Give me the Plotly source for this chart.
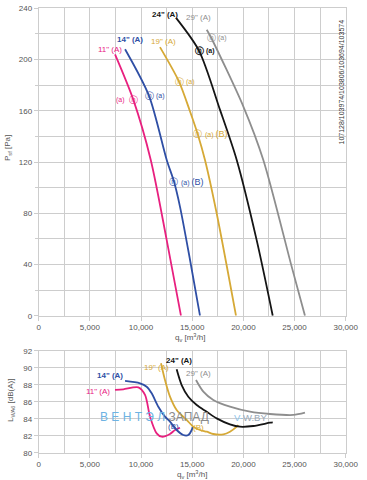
import plotly.graph_objects as go

# ---------------- data: static pressure (top) ----------------
q11_p = [7460, 9250, 10950, 12510, 13900]
p11 = [204, 168.5, 121.6, 59, 0]
q14_p = [8440, 10780, 12510, 13220, 13810, 14790, 15760]
p14 = [208, 171.6, 121.6, 104.7, 85, 43.5, 0]
q19_p = [11850, 13710, 14790, 15540, 16250, 17390, 19280]
p19 = [209.7, 182.8, 159.4, 141.7, 121.6, 80, 0]
q24_p = [13440, 15670, 17720, 19350, 21300, 22870]
p24 = [232.3, 206.8, 160.7, 121.6, 59, 0]
q29_p = [16420, 16840, 20000, 21950, 24720, 26020]
p29 = [223.2, 217.2, 163.3, 121.6, 38.3, 0]

# ---------------- data: sound power (bottom) ----------------
q11_l = [7460, 8270, 9740, 10390, 10880, 11530, 12020, 12830, 13320, 13810]
l11 = [87.38, 87.46, 87.69, 86.8, 84.24, 82.28, 81.88, 82.2, 82.67, 82.94]
q14_l = [8440, 9900, 10550, 11040, 11690, 12340, 12830, 13480, 14130, 14620, 14950, 15050]
l14 = [88.44, 88.16, 87.76, 86.99, 85.41, 84.24, 83.65, 82.67, 82.08, 82.08, 82.67, 83.06]
q19_l = [11950, 12340, 12830, 13480, 14460, 15110, 15760, 16420, 17060, 18040, 18690, 19350, 19500]
l19 = [90.52, 88.55, 86.59, 85.02, 83.85, 83.06, 82.67, 82.47, 82.2, 82.16, 82.47, 83.06, 83.26]
q24_l = [13480, 13970, 14620, 15440, 16420, 17390, 18690, 19670, 20970, 22600, 22870]
l24 = [89.81, 87.96, 86.59, 85.61, 84.82, 84.04, 83.34, 83.06, 83.14, 83.53, 83.57]
q29_l = [15370, 16090, 17060, 18690, 20650, 22600, 24880, 26020]
l29 = [88.55, 87.18, 86.2, 85.41, 84.82, 84.55, 84.44, 84.71]

x_ticks = [0, 5000, 10000, 15000, 20000, 25000, 30000]
x_tick_text = ["0", "5,000", "10,000", "15,000", "20,000", "25,000", "30,000"]

PINK = "#e8207f"
BLUE = "#2f4fa5"
GOLD = "#d6a936"
BLACK = "#151515"
GRAY = "#8e8e8e"
GRID = "#cdcdcd"
TXT = "#555555"
FONT = "Liberation Sans, Arial, sans-serif"

W, H = 367, 480
fig = go.Figure()

series_top = [(q11_p, p11, PINK), (q14_p, p14, BLUE), (q19_p, p19, GOLD),
              (q24_p, p24, BLACK), (q29_p, p29, GRAY)]
series_bot = [(q11_l, l11, PINK), (q14_l, l14, BLUE), (q19_l, l19, GOLD),
              (q24_l, l24, BLACK), (q29_l, l29, GRAY)]
for q, v, c in series_top:
    fig.add_trace(go.Scatter(x=q, y=v, mode="lines", xaxis="x", yaxis="y",
                             line=dict(color=c, width=1.8, shape="spline", smoothing=0.8),
                             showlegend=False, hoverinfo="skip"))
for q, v, c in series_bot:
    fig.add_trace(go.Scatter(x=q, y=v, mode="lines", xaxis="x2", yaxis="y2",
                             line=dict(color=c, width=1.8, shape="spline", smoothing=0.8),
                             showlegend=False, hoverinfo="skip"))

xd = [38.7 / W, 345.7 / W]
common_x = dict(range=[0, 30000], tickvals=x_ticks, ticktext=x_tick_text,
                showgrid=True, gridcolor=GRID, gridwidth=1,
                minor=dict(dtick=2500, showgrid=True, gridcolor=GRID, gridwidth=1),
                showline=True, linecolor=GRID, linewidth=1, mirror=True,
                ticks="outside", ticklen=4, tickcolor=GRID, automargin=False,
                tickfont=dict(size=8, color=TXT, family=FONT), zeroline=False,
                domain=xd, fixedrange=True)
fig.update_layout(
    width=W, height=H, autosize=False,
    margin=dict(l=0, r=0, t=0, b=0, pad=0, autoexpand=False),
    paper_bgcolor="white", plot_bgcolor="white", showlegend=False,
    xaxis=dict(common_x, anchor="y"),
    xaxis2=dict(common_x, anchor="y2"),
    yaxis=dict(range=[0, 240], tickvals=[0, 40, 80, 120, 160, 200, 240],
               showgrid=True, gridcolor=GRID, automargin=False, fixedrange=True,
               minor=dict(dtick=20, showgrid=True, gridcolor=GRID, ticks="outside", ticklen=3, tickcolor=GRID),
               showline=True, linecolor=GRID, mirror=True, ticks="outside", ticklen=4,
               tickcolor=GRID, tickfont=dict(size=8, color=TXT, family=FONT), zeroline=False,
               domain=[1 - 315.7 / H, 1 - 8.3 / H], anchor="x"),
    yaxis2=dict(range=[80, 92], tickvals=[80, 82, 84, 86, 88, 90, 92],
                showgrid=True, gridcolor=GRID, automargin=False, fixedrange=True,
                showline=True, linecolor=GRID, mirror=True, ticks="outside", ticklen=4,
                tickcolor=GRID, tickfont=dict(size=8, color=TXT, family=FONT), zeroline=False,
                domain=[1 - 452.7 / H, 1 - 350.7 / H], anchor="x2"),
)

ann = []


def label(x, y, text, color, xr="x", yr="y", size=8, bold=False, **kw):
    t = "<b>%s</b>" % text if bold else text
    ann.append(dict(x=x, y=y, xref=xr, yref=yr, text=t, showarrow=False,
                    font=dict(size=size, color=color, family=FONT), **kw))


# curve labels top
label(12340, 235, '24" (A)', BLACK, bold=True)
label(15570, 232.6, '29" (A)', GRAY)
label(8920, 216, '14" (A)', BLUE, bold=True)
label(6970, 208, '11" (A)', PINK)
label(12180, 214, '19" (A)', GOLD)


# operating point markers (circled n) on the top curves
def marker(x, y, color, right=None, left=None, xr="x", yr="y", bold=False):
    label(x, y, "ⓝ", color, xr, yr, size=9, bold=bold)
    if right:
        label(x, y, right, color, xr, yr, size=7, bold=bold, xanchor="left", xshift=5)
    if left:
        label(x, y, left, color, xr, yr, size=7, bold=bold, xanchor="right", xshift=-6)


marker(9245, 168.5, PINK, left="(a)")
marker(10780, 171.6, BLUE, right="(a)")
marker(13220, 104.7, BLUE, right="(a) <span style='font-size:9px'>(B)</span>")
marker(13710, 182.8, GOLD, right="(a)")
marker(15540, 141.7, GOLD, right="(a) <span style='font-size:9px'>(B)</span>")
marker(15670, 206.8, BLACK, right="(a)", bold=True)
marker(16840, 217.2, GRAY, right="(a)")

# curve labels bottom
label(6970, 89.06, '14" (A)', BLUE, "x2", "y2", bold=True)
label(5830, 87.18, '11" (A)', PINK, "x2", "y2")
label(11530, 90.0, '19" (A)', GOLD, "x2", "y2")
label(13740, 90.9, '24" (A)', BLACK, "x2", "y2", bold=True)
label(15600, 89.26, '29" (A)', GRAY, "x2", "y2")
label(13150, 83.06, "(B)", BLUE, "x2", "y2")
label(15600, 82.94, "(B)", GOLD, "x2", "y2")


# axis titles and side text
def paper_text(px, py, text, size=8, color=TXT, angle=0, xanchor="center"):
    ann.append(dict(x=px / W, y=1 - py / H, xref="paper", yref="paper", text=text,
                    showarrow=False, textangle=angle, xanchor=xanchor, yanchor="middle",
                    font=dict(size=size, color=color, family=FONT)))


paper_text(8, 148, "P<sub>sf</sub> [Pa]", angle=-90)
paper_text(190, 337, "q<sub>v</sub> [m<sup>3</sup>/h]")
paper_text(192, 474, "q<sub>v</sub> [m<sup>3</sup>/h]")
paper_text(11, 400, "L<sub>WA6</sub> [dB(A)]", angle=-90)
paper_text(340.5, 82, "107128/103974/103806/103694/103574", size=7, color="#333333", angle=-90)

# watermark
paper_text(98, 417,
           "<span style='color:#6db3e3'>В Е Н Т Э Л </span><span style='color:#8a8a8a'>ЗАПАД</span>",
           size=12, xanchor="left")
paper_text(232, 417,
           "<span style='color:#8cc3ea'>V-</span><span style='color:#9aa9b8'>W.BY</span>",
           size=9.5, xanchor="left")

fig.update_layout(annotations=ann)
fig.write_html("out.html", config={"displayModeBar": False, "responsive": False},
               post_script="document.body.style.margin='0';document.body.style.overflow='hidden';")
